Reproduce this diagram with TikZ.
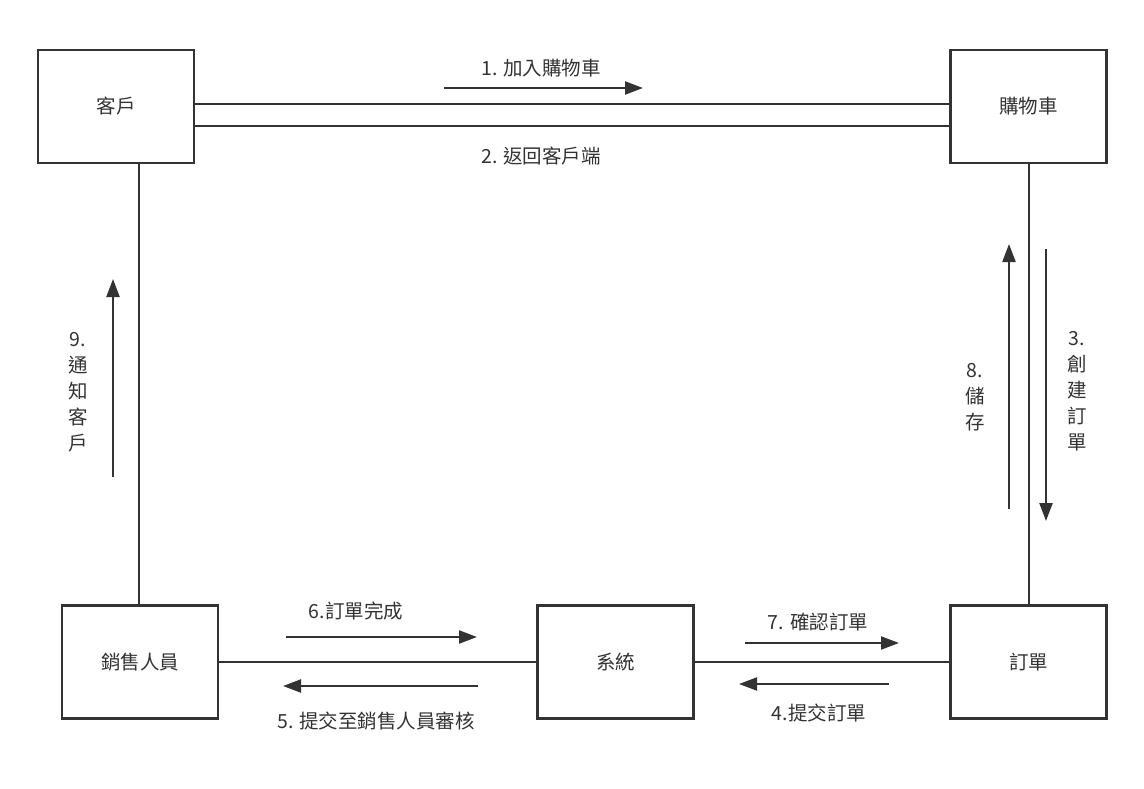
\documentclass[tikz,border=0pt]{standalone}
\usepackage{fontspec}
\setmainfont{Noto Sans CJK TC}
\usetikzlibrary{arrows.meta,calc}
\definecolor{ink}{HTML}{333333}
\begin{document}
\begin{tikzpicture}[x=1pt,y=-1pt,
  box/.style={draw=ink,line width=2.4pt,minimum width=156pt,minimum height=113pt,inner sep=0pt,text=ink,font=\fontsize{19.5}{24}\selectfont},
  conn/.style={draw=ink,line width=2pt},
  flow/.style={draw=ink,line width=2.2pt,-{Triangle[length=18pt,width=13pt]}},
  lbl/.style={text=ink,font=\fontsize{19.5}{24}\selectfont,inner sep=0pt},
  vlbl/.style={text=ink,font=\fontsize{19.5}{26}\selectfont,inner sep=0pt,align=center}]
\fill[white] (0,0) rectangle (1144,789);
\useasboundingbox (0,0) rectangle (1144,789);
% boxes
\node[box] (kehu) at (116,106.5) {客戶};
\node[box] (cart) at (1028.5,106.5) {購物車};
\node[box] (sales) at (140,662) {銷售人員};
\node[box] (sys) at (615.5,662) {系統};
\node[box] (order) at (1028.5,662) {訂單};
% connectors
\draw[conn] ([yshift=2pt]kehu.east) -- ([yshift=2pt]cart.west);
\draw[conn] ([yshift=-19.5pt]kehu.east) -- ([yshift=-19.5pt]cart.west);
\draw[conn] ([xshift=23pt]kehu.south) -- ([xshift=-1pt]sales.north);
\draw[conn] (cart.south) -- (order.north);
\draw[conn] (sales.east) -- (sys.west);
\draw[conn] (sys.east) -- (order.west);
% flow arrows
\coordinate (a1s) at (444,88); \coordinate (a1e) at (643,88);
\draw[flow] (a1s) -- (a1e);
\node[lbl] (l1) at (541,68) {1. 加入購物車};
\node[lbl] (l2) at (541,156) {2. 返回客戶端};
\coordinate (a3s) at (1046,249); \coordinate (a3e) at (1046,521);
\draw[flow] (a3s) -- (a3e);
\node[vlbl] (l3) at (1077,391) {3.\\創\\建\\訂\\單};
\coordinate (a8s) at (1009,509); \coordinate (a8e) at (1009,244);
\draw[flow] (a8s) -- (a8e);
\node[vlbl] (l8) at (975,397) {8.\\儲\\存};
\coordinate (a9s) at (113,477); \coordinate (a9e) at (113,279);
\draw[flow] (a9s) -- (a9e);
\node[vlbl] (l9) at (78,392) {9.\\通\\知\\客\\戶};
\coordinate (a6s) at (286,637); \coordinate (a6e) at (477,637);
\draw[flow] (a6s) -- (a6e);
\node[lbl] (l6) at (356,611) {6.訂單完成};
\coordinate (a5s) at (478,686); \coordinate (a5e) at (283,686);
\draw[flow] (a5s) -- (a5e);
\node[lbl] (l5) at (376,721) {5. 提交至銷售人員審核};
\coordinate (a7s) at (745,643); \coordinate (a7e) at (899,643);
\draw[flow] (a7s) -- (a7e);
\node[lbl] (l7) at (818,622) {7. 確認訂單};
\coordinate (a4s) at (889,684); \coordinate (a4e) at (739,684);
\draw[flow] (a4s) -- (a4e);
\node[lbl] (l4) at (819,713) {4.提交訂單};
\end{tikzpicture}
\end{document}
